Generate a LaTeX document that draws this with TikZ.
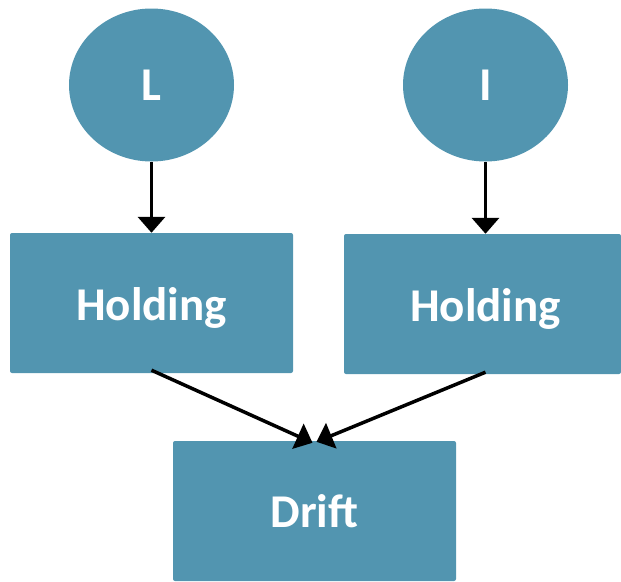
\documentclass[tikz,border=0pt]{standalone}
\usepackage{fontspec}
\setmainfont{Carlito}
\usepackage{xcolor}
\usetikzlibrary{shapes.geometric,arrows.meta}

\definecolor{tealbox}{RGB}{82,149,176}

\begin{document}
\begin{tikzpicture}[x=1pt,y=1pt,
    blob/.style={ellipse, fill=tealbox, inner sep=0pt, minimum width=165pt, minimum height=153pt,
        text=white, font=\fontsize{47}{47}\selectfont\bfseries},
    card/.style={rectangle, fill=tealbox, rounded corners=2pt, inner sep=0pt, minimum width=283pt, minimum height=140pt,
        text=white, font=\fontsize{47}{47}\selectfont\bfseries},
    link/.style={line width=3.5pt, -{Triangle[width=27pt,length=16pt]}}]
                        \useasboundingbox (0,0) rectangle (621,-581);

                        \node (l) at (151.5, -85) [blob] {L};
                        \node (i) at (485.5, -85) [blob] {I};
                        \node (h1) at (151.5, -303) [card] {\raisebox{-5pt}[\height][\depth]{Holding}};
                        \node (h2) at (482.5, -304) [card, minimum width=277pt] {\hspace{6pt}\raisebox{-5pt}[\height][\depth]{Holding}};
                        \node (drift) at (314.5, -511) [card] {Drift};

                        \draw[link] (l.south) to (h1.north);
                        \draw[link] (i.south) to (i.south |- h2.north);
                        \draw[link] ([yshift=3pt]h1.south) to ([xshift=-2pt, yshift=-2pt]drift.north);
                        \draw[link] ([xshift=3pt, yshift=2pt]h2.south) to ([xshift=2pt, yshift=-1pt]drift.north);
                    \end{tikzpicture}
\end{document}
